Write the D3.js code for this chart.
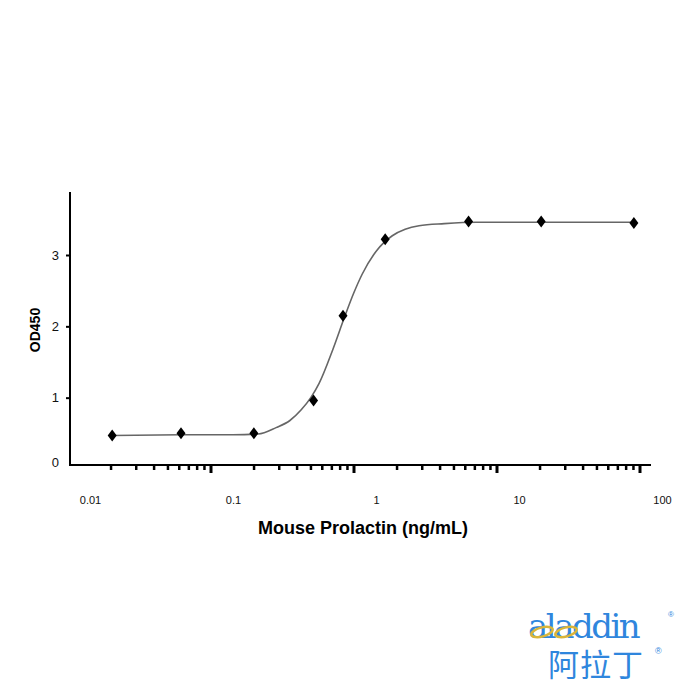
<!DOCTYPE html>
<html>
<head>
<meta charset="utf-8">
<script src="https://cdn.jsdelivr.net/npm/d3@7"></script>
<style>
  body { margin: 0; background: #fff; }
  text { font-family: "Liberation Sans", Arial, sans-serif; }
</style>
</head>
<body>
<div id="chart"></div>
<script>
// measured points (ng/mL, OD450)
const conc = [0.0143, 0.0433, 0.140, 0.366, 0.588, 1.16, 4.44, 14.3, 63.6];
const od = [0.47, 0.50, 0.50, 0.96, 2.15, 3.22, 3.47, 3.47, 3.45];
// fitted curve
const curveX = [0.0143, 0.05, 0.1, 0.15, 0.2, 0.25, 0.3, 0.35, 0.4, 0.5, 0.6, 0.7, 0.8, 1, 1.3, 1.6, 2, 3, 5, 10, 30, 63.6];
const curveY = [0.47, 0.48, 0.48, 0.49, 0.58, 0.68, 0.83, 1.0, 1.2, 1.68, 2.12, 2.47, 2.73, 3.05, 3.27, 3.36, 3.41, 3.44, 3.46, 3.46, 3.46, 3.46];
const xTickLabels = [0.01, 0.1, 1, 10, 100];
const yTickLabels = [0, 1, 2, 3];

const W = 700, H = 700;
const svg = d3.select('#chart').append('svg')
  .attr('width', W).attr('height', H);

const x = d3.scaleLog().domain([0.01, 100]).range([90, 662]);
const y = d3.scaleLinear().domain([0, 3]).range([469, 255]);
const axisX = 70, axisY = 465;

// axes lines
svg.append('line').attr('x1', axisX).attr('x2', axisX).attr('y1', 192).attr('y2', axisY + 1)
  .attr('stroke', '#000').attr('stroke-width', 2);
svg.append('line').attr('x1', axisX - 1).attr('x2', 651).attr('y1', axisY).attr('y2', axisY)
  .attr('stroke', '#000').attr('stroke-width', 2);

// y axis ticks + labels
const yAxis = d3.axisLeft(y).tickValues(yTickLabels).tickSize(4).tickFormat(d3.format('d'));
const gy = svg.append('g').attr('transform', `translate(${axisX},0)`).call(yAxis);
gy.select('.domain').remove();
gy.selectAll('.tick line').attr('stroke-width', 2).filter(d => d === 0).remove();
gy.selectAll('.tick text').attr('x', -11).attr('font-size', 13).attr('fill', '#111')
  .attr('dy', d => d === 0 ? '-0.2em' : '0.32em');

// x axis labels (ticks drawn separately, they sit left of the labels in the source)
const xAxis = d3.axisBottom(x).tickValues(xTickLabels).tickSize(0).tickFormat(d => String(d));
const gx = svg.append('g').attr('transform', `translate(0,${axisY})`).call(xAxis);
gx.select('.domain').remove();
gx.selectAll('.tick text').attr('y', 31).attr('font-size', 11).attr('fill', '#111');

const minor = [];
for (let e = -2; e < 2; e++) for (let k = 2; k <= 10; k++) minor.push(k * Math.pow(10, e));
const shift = -22;
const isMajor = d => Math.abs(Math.log10(d) - Math.round(Math.log10(d))) < 1e-6;
svg.append('g').selectAll('line').data(minor).join('line')
  .attr('x1', d => x(d) + shift).attr('x2', d => x(d) + shift)
  .attr('y1', axisY).attr('y2', d => isMajor(d) ? axisY + 8 : axisY + 5)
  .attr('stroke', '#000')
  .attr('stroke-width', d => isMajor(d) ? 3 : 2.5);

// curve
const line = d3.line().x(d => x(d[0])).y(d => y(d[1])).curve(d3.curveMonotoneX);
svg.append('path').datum(d3.zip(curveX, curveY))
  .attr('d', line).attr('fill', 'none').attr('stroke', '#666').attr('stroke-width', 1.6);

// points
svg.append('g').selectAll('path').data(d3.zip(conc, od)).join('path')
  .attr('transform', d => `translate(${x(d[0])},${y(d[1])})`)
  .attr('d', 'M0,-6L4.5,0L0,6L-4.5,0Z').attr('fill', '#000');

// titles
svg.append('text').attr('x', 363).attr('y', 534).attr('text-anchor', 'middle')
  .attr('font-size', 18).attr('font-weight', 'bold').text('Mouse Prolactin (ng/mL)');
svg.append('text').attr('transform', 'translate(40,330) rotate(-90)').attr('text-anchor', 'middle')
  .attr('font-size', 14).attr('font-weight', 'bold').text('OD450');

// logo
const logo = svg.append('g');
logo.append('text').attr('x', 528).attr('y', 638).style('font-family', '"DejaVu Serif", serif')
  .attr('font-size', 34).attr('fill', '#2f86dd').attr('letter-spacing', -2.5).text('aladdin');
[[542, 632], [566, 632]].forEach(([cx, cy]) => {
  logo.append('ellipse').attr('cx', cx).attr('cy', cy).attr('rx', 11).attr('ry', 4.5)
    .attr('fill', 'none').attr('stroke', '#d9b53a').attr('stroke-width', 2.5)
    .attr('transform', `rotate(-15,${cx},${cy})`);
});
logo.append('text').attr('x', 668).attr('y', 617).attr('font-size', 8).attr('fill', '#2f86dd').text('®');
logo.append('text').attr('x', 548).attr('y', 676).style('font-family', '"Noto Sans CJK SC"')
  .attr('font-size', 31).attr('fill', '#2f86dd').attr('letter-spacing', 1).text('阿拉丁');
logo.append('text').attr('x', 655).attr('y', 654).attr('font-size', 9).attr('fill', '#2f86dd').text('®');
</script>
</body>
</html>
